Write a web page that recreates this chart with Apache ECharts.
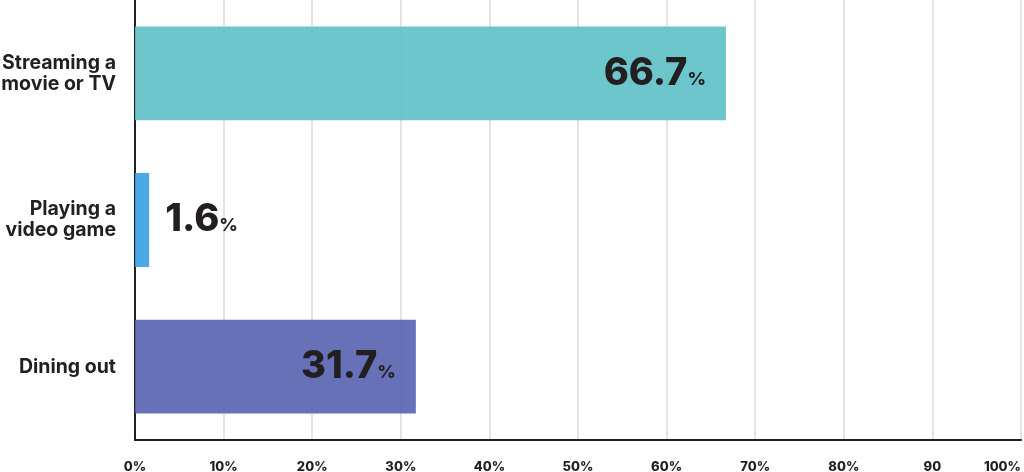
<!DOCTYPE html>
<html>
<head>
<meta charset="utf-8">
<script src="https://cdn.jsdelivr.net/npm/echarts@6/dist/echarts.min.js"></script>
<style>html,body{margin:0;padding:0;background:#fff}#c{width:1024px;height:472px}</style>
</head>
<body>
<div id="c"></div>
<script>
const categories = ['Streaming a\nmovie or TV', 'Playing a\nvideo game', 'Dining out'];
const values = [66.7, 1.6, 31.7];
const barColors = ['rgba(92,192,197,0.9)', 'rgba(55,160,230,0.9)', 'rgba(85,98,176,0.9)'];
const tickLabels = ['0%', '10%', '20%', '30%', '40%', '50%', '60%', '70%', '80%', '90', '100%'];
const labelPositions = ['insideRight', 'right', 'insideRight'];

const FONT = 'Inter, "Noto Sans", sans-serif';
const chart = echarts.init(document.getElementById('c'));
chart.setOption({
  animation: false,
  grid: { left: 135, right: 3, top: 0, bottom: 32, containLabel: false, outerBoundsMode: 'none' },
  xAxis: {
    type: 'value', min: 0, max: 100, interval: 10,
    axisLine: { show: true, lineStyle: { color: '#231f20', width: 2 } },
    axisTick: { show: false },
    splitLine: { show: true, lineStyle: { color: '#e4e4e4', width: 2 } },
    axisLabel: {
      margin: 21, color: '#231f20', fontFamily: FONT, fontWeight: 800, fontSize: 13,
      alignMaxLabel: 'right',
      formatter: (v) => tickLabels[Math.round(v / 10)]
    }
  },
  yAxis: {
    type: 'category', inverse: true, data: categories,
    axisLine: { show: true, lineStyle: { color: '#231f20', width: 2 } },
    axisTick: { show: false },
    axisLabel: {
      margin: 19, color: '#231f20', fontFamily: FONT, fontWeight: 'bold', fontSize: 19.5,
      lineHeight: 21, align: 'right'
    }
  },
  series: [{
    type: 'bar',
    barWidth: '64%',
    data: values.map((v, i) => ({
      value: v,
      itemStyle: { color: barColors[i] },
      label: { position: labelPositions[i], distance: i === 1 ? 16 : 20 }
    })),
    label: {
      show: true,
      formatter: (p) => '{v|' + p.value + '}{p|%}',
      rich: {
        v: { fontFamily: FONT, fontWeight: 800, fontSize: 38, color: '#231f20' },
        p: { fontFamily: FONT, fontWeight: 800, fontSize: 18, color: '#231f20', padding: [0, 0, 4, 0], verticalAlign: 'bottom' }
      }
    }
  }]
});
</script>
</body>
</html>
